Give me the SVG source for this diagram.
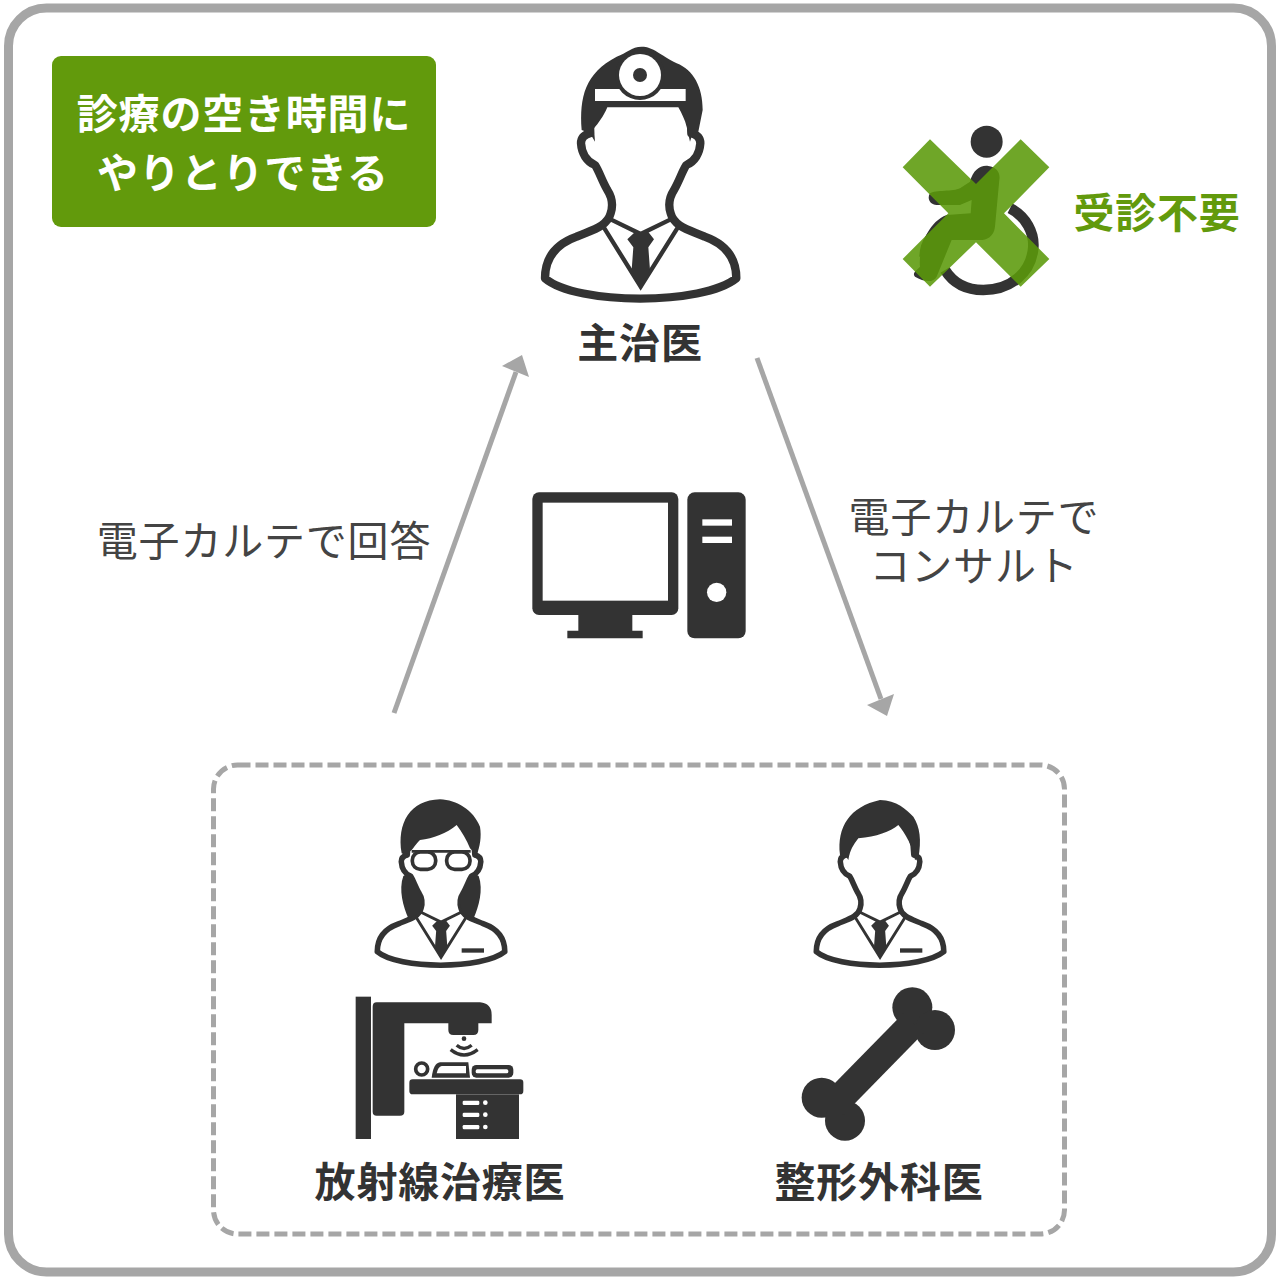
<svg xmlns="http://www.w3.org/2000/svg" width="1280" height="1280" viewBox="0 0 1280 1280">
<style>
text{font-family:"Noto Sans CJK JP","Noto Sans",sans-serif;text-anchor:middle;font-size:41px}
.b{font-weight:700;letter-spacing:.8px;fill:#333}
.l{font-weight:400;letter-spacing:.8px;fill:#444}
.d{fill:#333}
.o{fill:#fff;stroke:#333;stroke-linejoin:round}
.wf{fill:#fff}
.ar{fill:none;stroke:#a6a6a6;stroke-width:5}
.ah{fill:#a6a6a6}
</style>
<defs>
<g id="bust">
<path class="o" stroke-width="25" d="M75,745C75,690 100,645 170,620C215,600 262,590 272,550C280,525 275,500 262,480C245,450 238,425 225,405C200,395 185,370 183,340C183,325 190,315 210,310C210,60 514,60 514,310C534,315 541,325 541,340C539,370 524,395 499,405C486,425 479,450 462,480C449,500 444,525 452,550C462,590 509,600 554,620C624,645 649,690 649,745C550,826 170,826 75,745Z"/>
<path fill="none" stroke="#333" stroke-width="13" d="M250,590L362,770L475,590M272,568L362,612L452,568"/>
<path class="d" d="M345,606H385L402,628L385,652L390,720L362,775L335,720L340,652L322,628Z"/>
</g>
</defs>
<rect x="8.500" y="8" width="1263" height="1264" rx="38" fill="#fff" stroke="#a6a6a6" stroke-width="9"/>
<rect x="213.500" y="765" width="851" height="469" rx="24" fill="none" stroke="#a6a6a6" stroke-width="5" stroke-dasharray="13 5"/>

<g id="banner">
<rect x="52" y="56" width="384" height="171" rx="9" fill="#629a0c"/>
<text class="b" x="244" y="129" style="fill:#fff">診療の空き時間に</text>
<text class="b" x="243" y="188" style="fill:#fff">やりとりできる</text>
</g>

<g id="attending">
<g transform="translate(520,30) scale(.33333)">
<use href="#bust"/>
<path class="d" d="M185,300C178,200 195,130 290,80C320,70 335,50 365,50C400,50 420,75 470,100C520,120 548,170 548,240L535,305L518,310L510,335L500,290C495,270 485,250 475,232H262C250,260 235,280 222,295L225,335L210,310Z"/>
<rect class="wf" x="225" y="177" width="272" height="36"/>
<circle class="d" cx="360" cy="135" r="75"/>
<circle class="wf" cx="360" cy="135" r="63"/>
<circle class="d" cx="360" cy="135" r="21"/>
</g>
<text class="b" x="640" y="358">主治医</text>
</g>

<g id="no-visit">
<g transform="translate(880,110) scale(.33333)">
<circle class="d" cx="320" cy="95" r="48"/>
<path fill="none" stroke="#333" stroke-width="32" d="M390,295C440,320 462,370 460,410C455,490 390,540 310,540C260,540 220,520 195,480"/>
<path fill="none" stroke="#333" stroke-width="24" d="M195,345C160,360 130,395 130,440"/>
<path class="d" d="M270,215C280,180 300,165 325,168C350,170 362,190 358,210L345,350C342,380 320,390 300,390H215L170,500C160,520 130,515 105,500C95,490 110,480 120,470C115,430 135,340 200,315L272,310L275,270L240,285H170C150,285 140,265 150,250C165,240 220,245 240,235Z"/>
<path fill="#5b9a0a" fill-opacity=".88" d="M150,88L288,222L422,88L508,172L372,310L508,447L422,530L288,397L150,530L68,447L205,310L68,172Z"/>
</g>
<text class="b" x="1157" y="228" style="fill:#629a0c">受診不要</text>
</g>

<g id="computer" transform="translate(520,480) scale(.33333)">
<rect class="d" x="37" y="37" width="438" height="368" rx="20"/>
<rect class="wf" x="68" y="68" width="376" height="294"/>
<path class="d" d="M175,405H337V452H368V475H142V452H175Z"/>
<rect class="d" x="502" y="37" width="175" height="438" rx="22"/>
<rect class="wf" x="547" y="118" width="89" height="19"/>
<rect class="wf" x="547" y="170" width="89" height="19"/>
<circle class="wf" cx="590" cy="337" r="29"/>
</g>

<g id="connectors">
<path class="ar" d="M394,713L516,372"/>
<path class="ah" d="M522,355L502,366L529,377Z"/>
<path class="ar" d="M757,358L881,699"/>
<path class="ah" d="M887,716L867,705L894,694Z"/>
</g>

<g id="label-answer"><text class="l" x="264" y="556">電子カルテで回答</text></g>
<g id="label-consult">
<text class="l"><tspan x="974" y="532">電子カルテで</tspan><tspan x="974" y="581">コンサルト</tspan></text>
</g>

<g id="group-box">
<g id="radiologist">
<g transform="translate(360.600,786.100) scale(.22222)"><use href="#bust"/></g>
<g transform="translate(340,790) scale(.33333)">
<path class="d" d="M190,258C175,300 190,350 205,385L235,372C250,350 250,320 235,300C225,280 210,265 205,250Z"/>
<path class="d" d="M416,258C431,300 416,350 401,385L371,372C356,350 356,320 371,300C381,280 396,265 401,250Z"/>
<path class="d" d="M185,190C170,100 210,30 300,28C350,30 400,60 420,110C425,140 420,170 410,195L390,175C380,150 365,125 350,105C320,130 280,145 240,150C225,165 220,175 215,180L195,195Z"/>
<path fill="none" stroke="#333" stroke-width="8" d="M215,184H392"/>
<rect x="217" y="186" width="70" height="52" rx="24" fill="#fff" stroke="#333" stroke-width="11"/>
<rect x="320" y="186" width="70" height="52" rx="24" fill="#fff" stroke="#333" stroke-width="11"/>
<rect class="d" x="365" y="475" width="67" height="13"/>
</g>
<g transform="translate(340,985) scale(.33333)">
<rect class="d" x="47" y="35" width="46" height="427"/>
<path class="d" d="M98,65Q98,52 110,52H420Q455,55 455,90V115H415V135Q415,150 400,150H340Q325,150 325,135V115H193V380Q193,392 180,392H110Q98,392 98,380Z"/>
<circle class="d" cx="372" cy="161" r="7"/>
<path fill="none" stroke="#333" stroke-width="10" d="M350,181Q372,200 395,181M332,194Q372,226 413,194"/>
<circle cx="245" cy="252" r="18" fill="#fff" stroke="#333" stroke-width="11"/>
<path class="d" d="M275,278Q280,235 300,232H385L390,278Z"/>
<path class="wf" d="M290,265Q294,245 305,243H378V265Z"/>
<rect class="d" x="395" y="240" width="125" height="38" rx="14"/>
<rect class="wf" x="407" y="253" width="98" height="12" rx="5"/>
<rect class="d" x="208" y="283" width="342" height="45" rx="10"/>
<rect class="d" x="348" y="328" width="189" height="134"/>
<g class="wf">
<rect x="368" y="347" width="50" height="13" rx="4"/><circle cx="436" cy="353" r="7"/>
<rect x="368" y="383" width="50" height="13" rx="4"/><circle cx="436" cy="389" r="7"/>
<rect x="368" y="420" width="50" height="13" rx="4"/><circle cx="436" cy="426" r="7"/>
</g>
</g>
<text class="b" x="440" y="1197">放射線治療医</text>
</g>
<g id="orthopedist">
<g transform="translate(799.600,786.100) scale(.22222)"><use href="#bust"/></g>
<g transform="translate(790,790) scale(.33333)">
<path class="d" d="M150,195C140,110 180,50 270,30C320,30 350,60 370,80C390,110 395,150 385,205L375,210C370,170 345,130 325,105C300,125 260,140 205,145C190,165 180,180 175,210L165,195Z"/>
<rect class="d" x="330" y="475" width="67" height="13"/>
</g>
<g transform="translate(790,980) scale(.33333)">
<circle class="d" cx="367" cy="82" r="60"/><circle class="d" cx="435" cy="150" r="60"/>
<circle class="d" cx="95" cy="353" r="60"/><circle class="d" cx="165" cy="422" r="60"/>
<path fill="none" stroke="#333" stroke-width="85" d="M370,130L130,375"/>
</g>
<text class="b" x="879" y="1197">整形外科医</text>
</g>
</g>
</svg>
